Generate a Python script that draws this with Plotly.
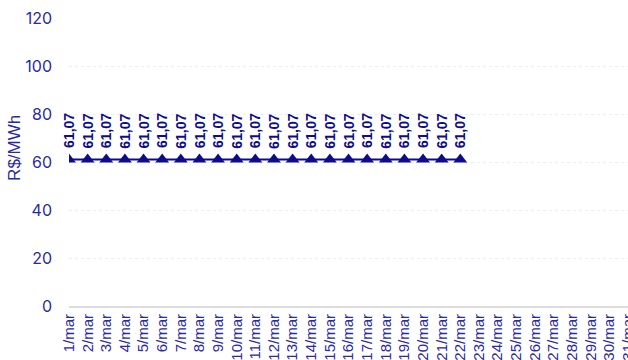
import plotly.graph_objects as go

# Daily categories for March and the prices published so far
days = [f"{d}/mar" for d in range(1, 32)]
prices = [61.07] * 22
y_ticks = [0, 20, 40, 60, 80, 100, 120]
y_title = "R$/MWh"

navy = "#0d0d8a"
label_blue = "#2a2aa0"

fig = go.Figure()
fig.add_trace(go.Scatter(
    x=days[:len(prices)],
    y=prices,
    mode="lines+markers",
    line=dict(color=navy, width=2),
    marker=dict(symbol="triangle-up", size=12, color=navy),
    hoverinfo="x+y",
    showlegend=False,
))

# Rotated value labels above each point
for d, v in zip(days, prices):
    fig.add_annotation(
        x=d, y=v,
        text=f"{v:.2f}".replace(".", ","),
        textangle=-90,
        showarrow=False,
        yanchor="bottom",
        yshift=9,
        font=dict(family="Liberation Sans, Arial", size=14, color=navy, weight="bold"),
    )

# Vertical unit title beside the value axis
fig.add_annotation(
    x=0, xref="paper", xanchor="center", xshift=-54,
    y=0.549, yref="paper", yanchor="middle",
    text=y_title, textangle=-90, showarrow=False,
    font=dict(family="Liberation Sans, Arial", size=17, color=label_blue),
)

fig.update_layout(
    width=628, height=360,
    margin=dict(l=69, r=0, t=18, b=54),
    paper_bgcolor="white",
    plot_bgcolor="white",
    xaxis=dict(
        type="category",
        categoryorder="array",
        categoryarray=days,
        tickvals=days,
        ticktext=days,
        range=[0, 30],
        tickangle=-90,
        tickfont=dict(family="Liberation Sans, Arial", size=15, color=label_blue),
        showgrid=False,
        showline=True,
        linecolor="#dcdcdc",
        linewidth=2,
        ticks="",
        automargin=False,
    ),
    yaxis=dict(
        range=[0, 120],
        tickvals=y_ticks,
        tickfont=dict(family="Inter, Roboto", size=16, color=label_blue),
        showgrid=True,
        gridcolor="#e8eff3",
        griddash="dot",
        gridwidth=1,
        zeroline=False,
        ticks="",
        ticklabelstandoff=16,
        automargin=False,
    ),
)

fig.write_html("out.html")
